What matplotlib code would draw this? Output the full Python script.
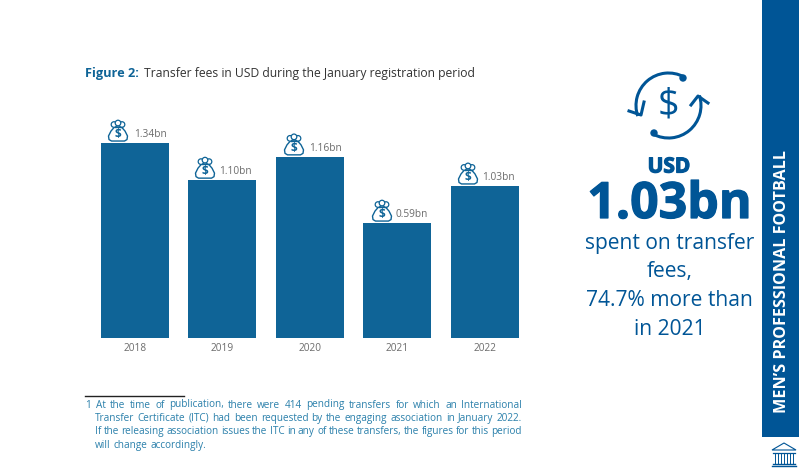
import matplotlib
matplotlib.use("Agg")
import matplotlib.pyplot as plt
import matplotlib.patheffects as pe
from matplotlib.patches import Arc, Circle, Polygon, Rectangle

plt.rcParams['font.family'] = ['Open Sans', 'DejaVu Sans']

W, H = 799, 475
BLUE = '#0f6497'
BAND = '#005596'
GREY = '#6b6b6b'
TEAL = '#2b80ab'
NOTE_SIZE = 7.2

years = ['2018', '2019', '2020', '2021', '2022']
bar_heights = [1.34, 1.085, 1.245, 0.79, 1.045]
bar_labels = ['1.34bn', '1.10bn', '1.16bn', '0.59bn', '1.03bn']
side_lines = ['spent on transfer', 'fees,', '74.7% more than', 'in 2021']
note_lines = [
    'At the time of publication, there were 414 pending transfers for which an International',
    'Transfer Certificate (ITC) had been requested by the engaging association in January 2022.',
    'If the releasing association issues the ITC in any of these transfers, the figures for this period',
    'will change accordingly.',
]

fig = plt.figure(figsize=(W / 100, H / 100), dpi=100)

# overlay in pixel coordinates for the page furniture
page = fig.add_axes([0, 0, 1, 1])
page.set_xlim(0, W)
page.set_ylim(H, 0)
page.axis('off')

# bars
ax = fig.add_axes([91 / W, 1 - 338 / H, 437.5 / W, 238 / H])
ax.bar(range(5), bar_heights, width=0.777, color=BLUE)
ax.set_xlim(-0.5, 4.5)
ax.set_ylim(0, 238 / 145.5)
ax.set_xticks(range(5), years)
ax.tick_params(axis='x', length=0, pad=3.5, labelsize=7.3, labelcolor=GREY)
ax.set_yticks([])
ax.patch.set_alpha(0)
for s in ax.spines.values():
    s.set_visible(False)


def money_bag(x, base):
    # small outlined bag sitting just above a bar
    body = [[x - 3.5, base - 14], [x + 3.5, base - 14], [x + 7, base - 10], [x + 9.5, base - 5],
            [x + 9, base - 1.5], [x + 6.5, base], [x - 6.5, base], [x - 9, base - 1.5],
            [x - 9.5, base - 5], [x - 7, base - 10]]
    page.add_patch(Polygon(body, closed=True, fc='white', ec=BLUE, lw=1, joinstyle='round'))
    page.add_patch(Circle((x - 4, base - 16.5), 2.8, fc='white', ec=BLUE, lw=0.9))
    page.add_patch(Circle((x + 4, base - 16.5), 2.8, fc='white', ec=BLUE, lw=0.9))
    page.add_patch(Circle((x, base - 18), 2.8, fc='white', ec=BLUE, lw=0.9))
    page.plot([x - 3.5, x + 3.5], [base - 14, base - 14], color=BLUE, lw=1)
    page.text(x, base - 6.5, '$', color=BLUE, fontsize=8.5, fontweight='bold', ha='center', va='center')


# icon and label offsets differ a little from bar to bar in the original
icon_x = [118, 205, 294, 382, 468]
label_x = [134.5, 219, 309, 395, 482]
for i in range(5):
    top = 338 - bar_heights[i] * 145.5
    money_bag(icon_x[i], top - 2)
    page.text(label_x[i], top - 8.5, bar_labels[i], color=GREY, fontsize=7.3, ha='left', va='center')

# title
t = page.text(85, 73, 'Figure 2:', color=BLUE, fontsize=9.2, fontweight='bold', va='center')
fig.canvas.draw()
r = fig.canvas.get_renderer()
page.text(144, 73, 'Transfer fees in USD during the January registration period',
          color='#333333', fontsize=8.75, va='center')

# footnote, justified word by word
page.plot([85, 184], [396, 396], color='#222222', lw=1)
page.text(85, 405, '1', color=TEAL, fontsize=NOTE_SIZE, va='center')


def put_line(line, y, x0, justify):
    words = line.split()
    x1 = 522
    sizes = []
    for w in words:
        tmp = page.text(0, 0, w, fontsize=NOTE_SIZE)
        box = tmp.get_window_extent(r)
        sizes.append(box.width)
        tmp.remove()
    gap = 3.2 if not justify else (x1 - x0 - sum(sizes)) / (len(words) - 1)
    x = x0
    for w, s in zip(words, sizes):
        page.text(x, y, w, color=TEAL, fontsize=NOTE_SIZE, va='center')
        x += s + gap


for i, line in enumerate(note_lines):
    put_line(line, 405 + i * 13.4, 96 if i == 0 else 95, i < 3)

# right hand callout
heavy = [pe.withStroke(linewidth=0.9, foreground=BAND)]
page.text(669, 167, 'USD', color=BAND, fontsize=15, fontweight='bold', ha='center', va='center',
          path_effects=heavy)
page.text(669.5, 205, '1.03bn', color=BAND, fontsize=36, fontweight='bold', ha='center', va='center',
          path_effects=heavy)
for i, line in enumerate(side_lines):
    page.text(669.5, 243 + i * 28.7, line, color=BAND, fontsize=15.1, ha='center', va='center')

# circular arrows with dollar sign
page.add_patch(Arc((668.5, 105.5), 65, 65, theta1=161, theta2=298, color=BAND, lw=2.2))
page.add_patch(Arc((668.5, 105.5), 65, 65, theta1=-18, theta2=118, color=BAND, lw=2.2))
page.add_patch(Circle((683, 78), 3, color=BAND))
page.add_patch(Circle((654, 133), 3, color=BAND))
page.plot([629, 641, 644], [111, 115, 102], color=BAND, lw=2.2)
page.plot([691, 698, 708], [105, 96, 103], color=BAND, lw=2.2)
page.text(668.5, 105, '$', color=BAND, fontsize=27, ha='center', va='center')

# side band
page.add_patch(Rectangle((762, 0), 37, 437, color=BAND, lw=0))
page.text(782, 282, "MEN\u2019S PROFESSIONAL FOOTBALL", color='white', fontsize=11.6, fontweight='bold',
          rotation=90, ha='center', va='center')

# temple icon
page.add_patch(Polygon([[772, 450], [784, 443], [796, 450]], closed=True, fc='white', ec=BAND, lw=0.8))
page.plot([773, 795], [453, 453], color=BAND, lw=0.9)
page.plot([773, 795], [464, 464], color=BAND, lw=1)
page.plot([772, 796], [466, 466], color=BAND, lw=1)
for px in range(775, 795, 3):
    page.plot([px, px], [454, 463], color=BAND, lw=0.7)

fig.savefig('out.png', dpi=100)
